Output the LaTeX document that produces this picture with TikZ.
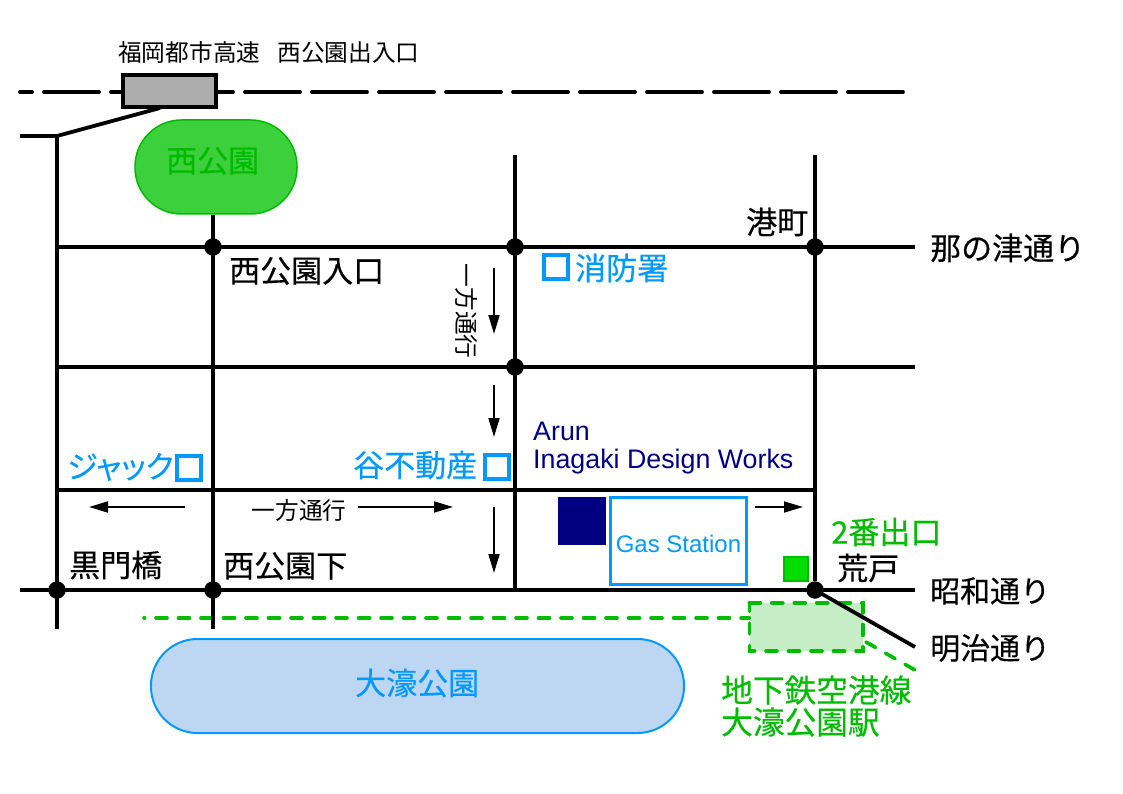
\documentclass[tikz,border=0pt]{standalone}
\usepackage{fontspec}
\setmainfont{Noto Sans CJK JP}
\newfontfamily\hv[FakeBold=0.35]{Noto Sans CJK JP}
\newfontfamily\hvk[FakeBold=0.35,RawFeature=+palt]{Noto Sans CJK JP}
\newfontfamily\lat{Liberation Sans}
\usetikzlibrary{arrows.meta}
\definecolor{gb}{HTML}{0099FF}
\definecolor{gg}{HTML}{00BB00}
\definecolor{nv}{HTML}{000080}
\definecolor{pg}{HTML}{3CD03C}
\definecolor{pb}{HTML}{BDD7F2}
\definecolor{ps}{HTML}{C6EEC6}
\tikzset{
 x=1pt,y=-1pt,
 road/.style={draw=black,line width=3.8pt},
 jct/.style={circle,fill=black,minimum size=17.5pt,inner sep=0pt},
 hway/.style={draw=black,line width=3.8pt,line cap=round,dash pattern=on 55pt off 12pt,dash phase=43pt},
 onew/.style={draw=black,line width=1.8pt,-{Triangle[length=19pt,width=11pt]}},
 lab/.style={inner sep=0pt,anchor=west,font=\hv\fontsize{31}{31}\selectfont},
 small/.style={inner sep=0pt,font=\fontsize{23.7}{24}\selectfont},
 en/.style={inner sep=0pt,anchor=west,text=nv,font=\lat\fontsize{26.8}{27}\selectfont},
 gdash/.style={draw=gg,line width=3.6pt,line cap=round,dash pattern=on 11pt off 11.5pt},
 bsq/.style={draw=gb,line width=4pt,minimum width=24pt,minimum height=24pt,inner sep=0pt,fill=white},
}
\begin{document}
\begin{tikzpicture}
\useasboundingbox[fill=white] (0,0) rectangle (1123,794);
% free road ends
\coordinate (hwW) at (20,92); \coordinate (hwE) at (905,92);
\coordinate (rA) at (20,136); \coordinate (rB) at (57,136); \coordinate (rC) at (160,108);
\coordinate (v1s) at (57,629); \coordinate (v2s) at (213,629);
\coordinate (v3n) at (515,155); \coordinate (v4n) at (815,155);
\coordinate (h1w) at (57,247); \coordinate (h1e) at (915,247);
\coordinate (h2w) at (57,367); \coordinate (h2e) at (915,367);
\coordinate (h3w) at (57,490); \coordinate (h3e) at (815,490);
\coordinate (h4w) at (20,590); \coordinate (h4e) at (915,590);
\coordinate (mj) at (915,647);
\coordinate (gw) at (144,618); \coordinate (g2a) at (866,642); \coordinate (g2b) at (915,670);
% parks and stations
\node[draw=gg,line width=1.5pt,fill=pg,rounded corners=46.5pt,minimum width=162pt,minimum height=94pt,inner sep=0pt] (pw) at (216,167) {};
\node[draw=gb,line width=2pt,fill=pb,rounded corners=46.5pt,minimum width=533pt,minimum height=94pt,inner sep=0pt] (po) at (417.5,686) {};
\node[draw=none,fill=ps,minimum width=113pt,minimum height=48pt,inner sep=0pt] (st) at (806,627) {};
\draw[gdash,dash phase=10.5pt] (gw) -- (gw -| st.west);
\draw[gdash] (st.north west) -- (st.north east) -- (st.south east) -- (st.south west) -- cycle;
\draw[gdash] (g2a) -- (g2b);
% roads
\node[jct] (j1) at (213,247) {};
\node[jct] (j2) at (515,247) {};
\node[jct] (j3) at (815,247) {};
\node[jct] (j4) at (515,367) {};
\node[jct] (j5) at (57,590) {};
\node[jct] (j6) at (213,590) {};
\node[jct] (j7) at (815,590) {};
\draw[hway] (hwW) -- (hwE);
\draw[road] (rA) -- (rB) -- (rC);
\draw[road] (rB) -- (v1s);
\draw[road] (pw.south -| j1) -- (v2s);
\draw[road] (v3n) -- (j6 -| v3n);
\draw[road] (v4n) -- (j7);
\draw[road] (h1w) -- (h1e);
\draw[road] (h2w) -- (h2e);
\draw[road] (h3w) -- (h3e);
\draw[road] (h4w) -- (h4e);
\draw[line width=3.8pt] (j7.center) -- (mj);
% highway interchange
\node[draw=black,line width=4pt,fill=black!32,minimum width=93pt,minimum height=32pt,inner sep=0pt] (hw) at (169,91.5) {};
% buildings
\node[fill=nv,minimum width=48pt,minimum height=48pt,inner sep=0pt] (nvb) at (582,521) {};
\node[draw=gb,line width=3.6pt,minimum width=136pt,minimum height=87pt,inner sep=0pt] (gs) at (678.5,541) {};
\node[draw=gg,line width=2pt,fill=green!87!black,minimum width=24pt,minimum height=24pt,inner sep=0pt] (ex) at (796,569) {};
\node[bsq] (sq1) at (556,267) {};
\node[bsq] (sq2) at (189,468) {};
\node[bsq] (sq3) at (497,467) {};
% one-way arrows
\coordinate (a1) at (494,268); \coordinate (a1e) at (494,334);
\coordinate (a2) at (494,385); \coordinate (a2e) at (494,437);
\coordinate (a3) at (494,507); \coordinate (a3e) at (494,573);
\coordinate (a4) at (185,507); \coordinate (a4e) at (89,507);
\coordinate (a5) at (358,507); \coordinate (a5e) at (453,507);
\coordinate (a6) at (755,507); \coordinate (a6e) at (803,507);
\draw[onew] (a1) -- (a1e);
\draw[onew] (a2) -- (a2e);
\draw[onew] (a3) -- (a3e);
\draw[onew] (a4) -- (a4e);
\draw[onew] (a5) -- (a5e);
\draw[onew] (a6) -- (a6e);
% texts
\node[small,anchor=west] (t0) at (118,52) {福岡都市高速\hspace{17pt}西公園出入口};
\node[small,rotate=-90] (t1) at (466,311) {一方通行};
\node[small] (t2) at (299,511) {一方通行};
\node[lab] (t3) at (930,248) {那の津通り};
\node[lab,font=\hv\fontsize{30}{30}\selectfont] (t4) at (930,591) {昭和通り};
\node[lab,font=\hv\fontsize{30}{30}\selectfont] (t5) at (930,648) {明治通り};
\node[lab] (t6) at (746,222) {港町};
\node[lab] (t7) at (229,271) {西公園入口};
\node[lab] (t8) at (69,565) {黒門橋};
\node[lab] (t9) at (223,566) {西公園下};
\node[lab] (t10) at (837,568) {荒戸};
\node[lab,text=gb] (t11) at (575,268) {消防署};
\node[lab,text=gb,font=\hvk\fontsize{31}{31}\selectfont] (t12) at (67,467) {ジャック};
\node[lab,text=gb] (t13) at (353,465) {谷不動産};
\node[lab,text=gb] (t14) at (355,683) {大濠公園};
\node[lab,text=gg] (t15) at (166,161) {西公園};
\node[lab,text=gg] (t16) at (831,532) {2番出口};
\node[lab,text=gg,font=\hv\fontsize{31.7}{32}\selectfont] (t17) at (721,690) {地下鉄空港線};
\node[lab,text=gg,font=\hv\fontsize{31.7}{32}\selectfont] (t18) at (721,722) {大濠公園駅};
\node[en] (t19) at (533,431) {Arun};
\node[en] (t20) at (533,462) {Inagaki Design Works};
\node[inner sep=0pt,text=gb,font=\lat\fontsize{24}{24}\selectfont] (t21) at (678.5,544) {Gas Station};
\end{tikzpicture}
\end{document}
